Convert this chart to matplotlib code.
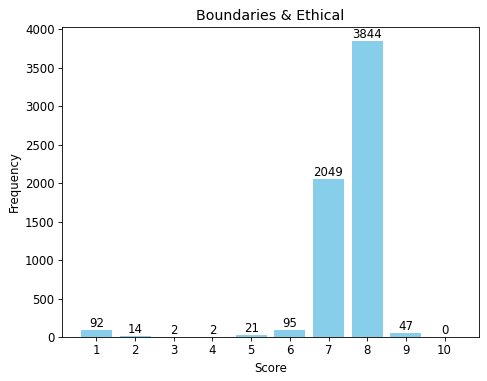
import matplotlib
matplotlib.use("Agg")
import matplotlib.pyplot as plt

scores = [1, 2, 3, 4, 5, 6, 7, 8, 9, 10]
counts = [92, 14, 2, 2, 21, 95, 2049, 3844, 47, 0]

plt.rcParams['font.size'] = 11.2

fig = plt.figure(figsize=(487 / 76, 381 / 76), dpi=76)
ax = fig.add_axes([0.1273, 0.1155, 0.8563, 0.8145])

bars = ax.bar(scores, counts, color='skyblue')
for b, c in zip(bars, counts):
    ax.text(b.get_x() + b.get_width() / 2, b.get_height(), str(c),
            ha='center', va='bottom')

ax.set_xticks(scores)
ax.set_title('Boundaries & Ethical')
ax.set_xlabel('Score')
ax.set_ylabel('Frequency')

fig.savefig('out.png', dpi=76)
